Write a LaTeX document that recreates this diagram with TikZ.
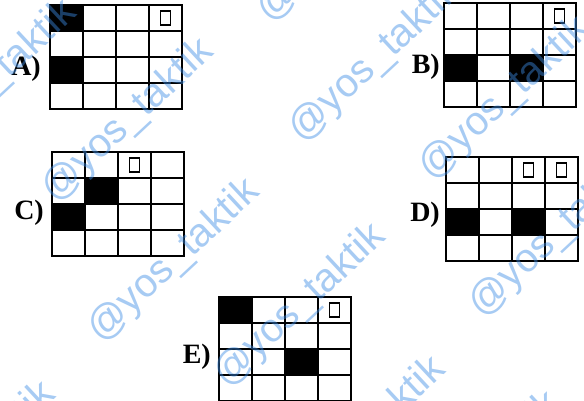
\documentclass[tikz,border=0pt]{standalone}
\usepackage{fontspec}
\setmainfont{Liberation Serif}
\newfontfamily\wmfont{Liberation Sans}
\usetikzlibrary{positioning}
\definecolor{wmBlue}{RGB}{60,140,230}

\begin{document}
\begin{tikzpicture}[x=1pt, y=-1pt,
  gridline/.style={line width=1.1pt},
  frame/.style={line width=1.6pt},
  blk/.style={fill=black},
  tinybox/.style={draw, line width=1.1pt, minimum width=10pt, minimum height=14pt, inner sep=0pt},
  lbl/.style={font=\bfseries\fontsize{28}{28}\selectfont, anchor=east, inner sep=0pt},
  wm/.style={text=wmBlue, text opacity=0.45, font=\wmfont\fontsize{40}{40}\selectfont, rotate=43},
]
\useasboundingbox (0,0) rectangle (584,401);
\clip (0,0) rectangle (584,401);
\fill[white] (0,0) rectangle (584,401);
% option A
\begin{scope}[shift={(50,5)}]
  \fill[blk] (0,0) rectangle (33,26);
  \fill[blk] (0,52) rectangle (33,78);
  \foreach \i in {1,2,3} {
    \draw[gridline] (33*\i,0) -- (33*\i,104);
    \draw[gridline] (0,26*\i) -- (132,26*\i);
  }
  \draw[frame] (0,0) rectangle (132,104);
  \node[tinybox] (mA) at (115.5,13) {};
\end{scope}
\node[lbl] (lA) at (41,69) {A)};
% option B
\begin{scope}[shift={(444,3)}]
  \fill[blk] (0,52) rectangle (33,78);
  \fill[blk] (66,52) rectangle (99,78);
  \foreach \i in {1,2,3} {
    \draw[gridline] (33*\i,0) -- (33*\i,104);
    \draw[gridline] (0,26*\i) -- (132,26*\i);
  }
  \draw[frame] (0,0) rectangle (132,104);
  \node[tinybox] (mB) at (115.5,13) {};
\end{scope}
\node[lbl] (lB) at (440,67) {B)};
% option C
\begin{scope}[shift={(52,152)}]
  \fill[blk] (33,26) rectangle (66,52);
  \fill[blk] (0,52) rectangle (33,78);
  \foreach \i in {1,2,3} {
    \draw[gridline] (33*\i,0) -- (33*\i,104);
    \draw[gridline] (0,26*\i) -- (132,26*\i);
  }
  \draw[frame] (0,0) rectangle (132,104);
  \node[tinybox] (mC) at (82.5,13) {};
\end{scope}
\node[lbl] (lC) at (44,213) {C)};
% option D
\begin{scope}[shift={(446,157)}]
  \fill[blk] (0,52) rectangle (33,78);
  \fill[blk] (66,52) rectangle (99,78);
  \foreach \i in {1,2,3} {
    \draw[gridline] (33*\i,0) -- (33*\i,104);
    \draw[gridline] (0,26*\i) -- (132,26*\i);
  }
  \draw[frame] (0,0) rectangle (132,104);
  \node[tinybox] (mD1) at (82.5,13) {};
  \node[tinybox] (mD2) at (115.5,13) {};
\end{scope}
\node[lbl] (lD) at (440,215) {D)};
% option E
\begin{scope}[shift={(219,297)}]
  \fill[blk] (0,0) rectangle (33,26);
  \fill[blk] (66,52) rectangle (99,78);
  \foreach \i in {1,2,3} {
    \draw[gridline] (33*\i,0) -- (33*\i,104);
    \draw[gridline] (0,26*\i) -- (132,26*\i);
  }
  \draw[frame] (0,0) rectangle (132,104);
  \node[tinybox] (mE) at (115.5,13) {};
\end{scope}
\node[lbl] (lE) at (211,357) {E)};
% watermark
\node[wm] (w1) at (-9,82) {@yos\_taktik};
\node[wm] (w2) at (128,121) {@yos\_taktik};
\node[wm] (w3) at (174,261) {@yos\_taktik};
\node[wm] (w4) at (375,61) {@yos\_taktik};
\node[wm] (w5) at (505,99) {@yos\_taktik};
\node[wm] (w6) at (555,236) {@yos\_taktik};
\node[wm] (w7) at (300,306) {@yos\_taktik};
\node[wm] (w8) at (360,439) {@yos\_taktik};
\node[wm] (w9) at (475,474) {@yos\_taktik};
\node[wm] (w10) at (-30,464) {@yos\_taktik};
\node[wm] (w11) at (343,-59) {@yos\_taktik};
\end{tikzpicture}
\end{document}
